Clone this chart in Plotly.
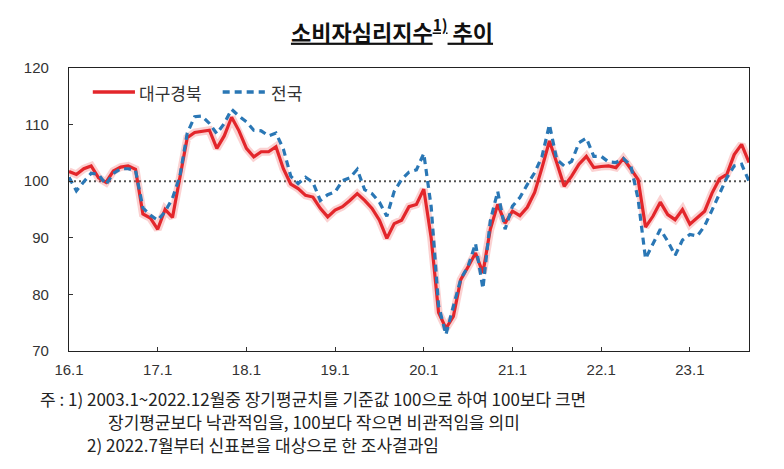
import plotly.graph_objects as go

# 2016.1 ~ 2023.9, monthly
months = [f"{y}.{m}" for y in range(16, 24) for m in range(1, 13)][:93]

daegu = [
    101.7, 101.2, 102.2, 102.7, 100.6, 99.8, 101.8, 102.5, 102.7, 102.1, 94.2, 93.5,
    91.5, 95.0, 93.6, 100.9, 107.7, 108.6, 108.8, 109.0, 105.8, 108.0, 111.3, 108.9,
    105.8, 104.3, 105.2, 105.2, 106.1, 102.2, 99.5, 98.7, 97.5, 97.2, 95.2, 93.7,
    94.9, 95.5, 96.6, 97.8, 96.6, 95.2, 93.1, 89.9, 92.5, 93.1, 95.5, 95.9,
    98.6, 90.0, 76.8, 74.0, 76.1, 82.6, 84.9, 87.3, 83.8, 91.5, 95.9, 92.6,
    94.7, 93.9, 95.4, 98.0, 102.4, 107.1, 103.2, 99.1, 100.9, 103.0, 104.4, 102.4,
    102.6, 102.7, 102.4, 104.0, 102.2, 100.3, 91.9, 93.8, 96.3, 94.1, 93.2, 95.0,
    92.4, 93.6, 94.7, 97.9, 100.4, 101.2, 104.7, 106.5, 103.3,
]

national = [
    100.7, 98.3, 99.9, 101.4, 101.2, 99.4, 101.4, 102.2, 102.2, 101.9, 95.3, 94.0,
    93.1, 94.6, 97.0, 100.9, 108.5, 111.4, 111.5, 110.2, 108.4, 110.2, 112.7, 111.5,
    110.5, 109.0, 108.9, 108.0, 108.5, 105.7, 100.9, 99.6, 100.7, 99.8, 96.6, 97.6,
    98.1, 100.1, 100.6, 102.1, 98.5, 97.8, 96.3, 93.8, 98.2, 100.3, 101.6, 102.0,
    104.9, 95.5, 78.0, 72.9, 77.9, 82.7, 85.0, 89.0, 81.0, 93.0, 98.2, 91.5,
    95.6, 97.1, 99.4, 101.5, 104.4, 110.0, 103.8, 102.7, 103.5, 106.8, 107.6, 104.4,
    104.4, 103.4, 103.3, 104.0, 102.8, 96.8, 86.3, 88.9, 91.5, 89.4, 86.9, 89.6,
    90.6, 90.3, 92.1, 94.9, 97.8, 100.6, 102.7, 103.0, 100.0,
]

tick_vals = [m for m in months if m.endswith(".1") and not m.endswith(".11")]
tick_text = tick_vals
y_ticks = [70, 80, 90, 100, 110, 120]

RED = "#e3262b"
BLUE = "#2a77b5"
FONT = "Liberation Sans"
KFONT = "Noto Sans CJK KR"

# the page body has an 8px margin, so the figure is a bit smaller
W, H = 776, 461

fig = go.Figure()

# soft halo under the red line
fig.add_trace(go.Scatter(x=months, y=daegu, mode="lines",
                         line=dict(color="rgba(240,90,90,0.28)", width=8),
                         hoverinfo="skip", showlegend=False))
fig.add_trace(go.Scatter(x=months, y=daegu, mode="lines", name="대구경북",
                         line=dict(color=RED, width=3.2), showlegend=False))
fig.add_trace(go.Scatter(x=months, y=national, mode="lines", name="전국",
                         line=dict(color=BLUE, width=3.2, dash="7px,5px"),
                         showlegend=False))

# reference line at 100
fig.add_shape(type="line", xref="paper", yref="y", x0=0, x1=1, y0=100, y1=100,
              line=dict(color="#555555", width=2, dash="2px,3px"), layer="below")

# hand made legend
fig.add_shape(type="line", xref="paper", yref="paper", x0=0.035, x1=0.097, y0=0.915, y1=0.915,
              line=dict(color=RED, width=3.5))
fig.add_annotation(xref="paper", yref="paper", x=0.1, y=0.915, text="대구경북",
                   showarrow=False, xanchor="left", yanchor="middle",
                   font=dict(family=KFONT, size=17, color="#333333"))
fig.add_shape(type="line", xref="paper", yref="paper", x0=0.226, x1=0.288, y0=0.915, y1=0.915,
              line=dict(color=BLUE, width=3.5, dash="7px,5px"))
fig.add_annotation(xref="paper", yref="paper", x=0.294, y=0.915, text="전국",
                   showarrow=False, xanchor="left", yanchor="middle",
                   font=dict(family=KFONT, size=17, color="#333333"))

# footnotes
notes = [
    (38, 398, "주 : 1) 2003.1~2022.12월중 장기평균치를 기준값 100으로 하여 100보다 크면"),
    (106, 421, "장기평균보다 낙관적임을, 100보다 작으면 비관적임을 의미"),
    (85, 444, "2) 2022.7월부터 신표본을 대상으로 한 조사결과임"),
]
for nx, ny, txt in notes:
    fig.add_annotation(xref="paper", yref="paper",
                       x=(nx - 69) / 680, y=(351 - ny) / 283, text=txt,
                       showarrow=False, xanchor="left", yanchor="middle",
                       font=dict(family=KFONT, size=17, color="#222222"))

fig.update_layout(
    width=W, height=H,
    margin=dict(l=61, r=35, t=60, b=118),
    paper_bgcolor="white", plot_bgcolor="white",
    title=dict(text="<u><b>소비자심리지수<sup>1)</sup> 추이</b></u>",
               x=384 / W, xref="container", xanchor="center",
               y=1 - 25 / H, yref="container", yanchor="middle",
               font=dict(family=KFONT, size=22, color="#111111")),
    xaxis=dict(type="category", range=[0, len(months) - 1],
               tickvals=tick_vals, ticktext=tick_text,
               ticks="inside", ticklen=4, tickcolor="#333333",
               showline=True, mirror=True, linecolor="#222222", linewidth=1.3,
               showgrid=False, zeroline=False, ticklabelstandoff=5, automargin=False,
               tickfont=dict(family=FONT, size=15, color="#333333")),
    yaxis=dict(range=[70, 120], tickvals=y_ticks,
               ticks="inside", ticklen=4, tickcolor="#333333",
               showline=True, mirror=True, linecolor="#222222", linewidth=1.3,
               showgrid=False, zeroline=False, ticklabelstandoff=16, automargin=False,
               tickfont=dict(family=FONT, size=15, color="#333333")),
)

fig.write_html("out.html")
